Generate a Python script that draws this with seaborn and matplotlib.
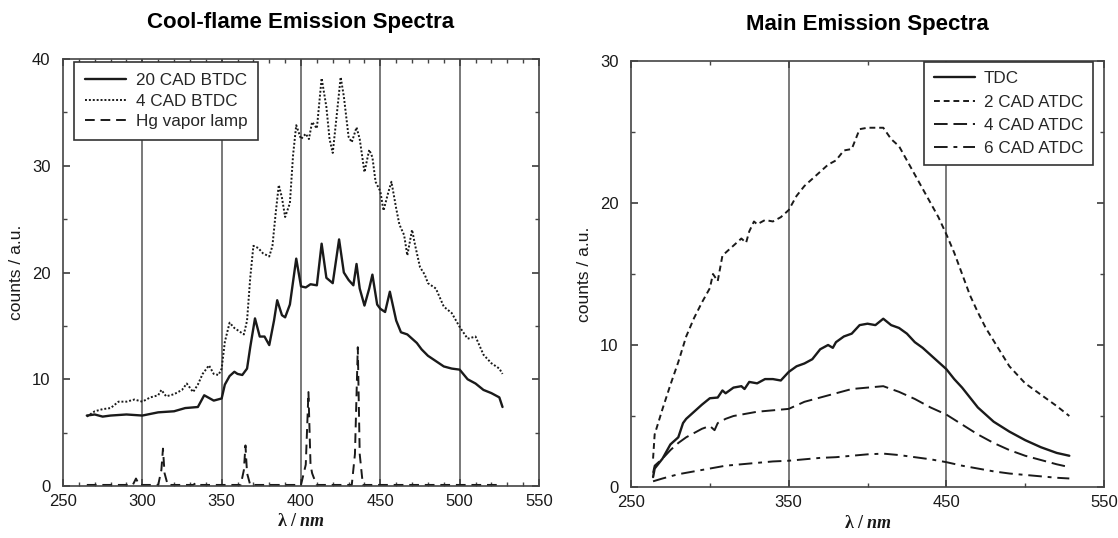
import numpy as np
import pandas as pd
import matplotlib
matplotlib.use("Agg")
import matplotlib.pyplot as plt
import seaborn as sns

# ---------------- data: left panel (cool-flame) ----------------
cad20_x = [265, 270, 275, 280, 290, 300, 310, 320, 327, 335, 339, 345, 350, 352, 355, 358, 360, 363,
           366, 368, 371, 374, 377, 380, 383, 385, 388, 390, 393, 397, 400, 403, 406, 410, 413, 416,
           420, 424, 427, 430, 433, 435, 437, 440, 443, 445, 448, 450, 453, 456, 460, 463, 467, 470,
           473, 476, 480, 485, 490, 495, 500, 505, 510, 515, 520, 525, 527]
cad20_y = [6.6, 6.7, 6.5, 6.6, 6.7, 6.6, 6.9, 7.0, 7.3, 7.4, 8.5, 8.0, 8.2, 9.5, 10.3, 10.7, 10.5, 10.4,
           11.0, 13.0, 15.7, 14.0, 14.0, 13.2, 15.5, 17.4, 16.0, 15.8, 17.0, 21.3, 18.7, 18.6, 18.9, 18.8, 22.7, 19.5,
           19.0, 23.1, 20.0, 19.3, 18.8, 20.8, 18.5, 16.9, 18.5, 19.8, 17.0, 16.6, 16.3, 18.2, 15.5, 14.4, 14.2, 13.8,
           13.4, 12.8, 12.2, 11.7, 11.2, 11.0, 10.9, 10.0, 9.6, 9.0, 8.7, 8.3, 7.4]

cad4_x = [265, 270, 275, 280, 285, 290, 295, 300, 305, 310, 312, 315, 320, 325, 328, 332, 335, 338, 342,
          345, 348, 350, 352, 355, 358, 361, 364, 366, 368, 370, 373, 376, 380, 382, 384, 386, 388, 390,
          393, 395, 397, 400, 403, 405, 407, 410, 413, 416, 418, 420, 422, 425, 427, 430, 432, 435, 437,
          440, 443, 445, 447, 450, 452, 455, 457, 460, 462, 465, 467, 470, 472, 475, 478, 480, 485, 490,
          495, 500, 505, 510, 515, 520, 525, 527]
cad4_y = [6.5, 7.0, 7.2, 7.3, 7.9, 7.9, 8.1, 7.9, 8.3, 8.5, 9.0, 8.4, 8.6, 9.0, 9.6, 8.8, 9.5, 10.5, 11.3,
          10.5, 10.4, 11.0, 13.5, 15.3, 14.8, 14.5, 14.2, 15.5, 19.5, 22.5, 22.3, 21.8, 21.5, 22.5, 25.5, 28.2, 27.0, 25.2,
          26.5, 31.0, 33.8, 32.5, 33.0, 32.5, 34.1, 33.5, 38.2, 35.5, 32.5, 31.2, 34.0, 38.3, 36.5, 32.7, 32.2, 33.6, 32.5,
          29.4, 31.5, 30.8, 28.5, 27.6, 25.8, 27.5, 28.5, 26.0, 24.5, 23.5, 21.6, 24.0, 22.5, 20.5, 19.8, 19.0, 18.5, 16.8,
          16.2, 14.9, 13.8, 14.0, 12.3, 11.5, 11.0, 10.5]

hg_x = [265, 285, 294, 296, 298, 310, 312, 313, 314, 316, 332, 334, 336, 362, 364, 365, 366, 368,
        400, 403, 404.7, 406, 407, 408, 410, 432, 434, 435.8, 437, 439, 460, 527]
hg_y = [0.1, 0.1, 0.1, 0.7, 0.1, 0.1, 1.5, 3.5, 1.2, 0.1, 0.1, 0.3, 0.1, 0.1, 1.5, 3.8, 1.2, 0.1,
        0.1, 2.0, 8.8, 2.0, 1.2, 0.8, 0.1, 0.1, 3.0, 13.0, 3.0, 0.1, 0.1, 0.1]

# ---------------- data: right panel (main emission) ----------------
tdc_x = [264, 265, 270, 275, 280, 283, 285, 290, 295, 300, 305, 308, 310, 315, 320, 322, 325, 330, 335,
         340, 345, 350, 355, 360, 365, 370, 375, 378, 380, 385, 390, 395, 400, 405, 410, 415, 420, 425,
         430, 435, 440, 445, 450, 455, 460, 465, 470, 475, 480, 490, 500, 510, 520, 528]
tdc_y = [0.7, 1.3, 2.0, 3.0, 3.5, 4.5, 4.8, 5.3, 5.8, 6.25, 6.3, 6.8, 6.6, 7.0, 7.1, 6.9, 7.4, 7.3, 7.6,
         7.6, 7.5, 8.1, 8.5, 8.7, 9.0, 9.7, 10.0, 9.8, 10.2, 10.6, 10.8, 11.4, 11.5, 11.4, 11.85, 11.4, 11.2, 10.8,
         10.2, 9.8, 9.3, 8.8, 8.3, 7.6, 7.0, 6.3, 5.6, 5.1, 4.6, 3.9, 3.3, 2.8, 2.4, 2.2]

atdc2_x = [264, 265, 270, 275, 280, 285, 290, 295, 300, 302, 305, 308, 310, 315, 320, 323, 325, 328, 330,
           335, 340, 345, 350, 355, 360, 365, 370, 375, 380, 385, 390, 395, 400, 405, 410, 415, 420, 425,
           430, 435, 440, 445, 450, 455, 460, 465, 470, 475, 480, 490, 500, 510, 520, 528]
atdc2_y = [2.0, 3.7, 5.5, 7.2, 8.8, 10.6, 11.9, 13.0, 14.0, 15.0, 14.5, 16.3, 16.5, 17.0, 17.5, 17.2, 18.0, 18.7, 18.5,
           18.8, 18.7, 19.0, 19.5, 20.5, 21.2, 21.7, 22.2, 22.7, 23.0, 23.7, 23.8, 25.2, 25.3, 25.3, 25.3, 24.5, 24.0, 23.0,
           22.0, 21.0, 20.0, 19.0, 17.8, 16.5, 15.0, 13.5, 12.3, 11.2, 10.3, 8.5, 7.3, 6.5, 5.7, 5.0]

atdc4_x = [264, 265, 270, 275, 280, 285, 290, 295, 300, 303, 305, 310, 315, 320, 325, 330, 340, 350, 360,
           370, 380, 390, 400, 410, 420, 430, 440, 450, 460, 470, 480, 490, 500, 510, 520, 528]
atdc4_y = [1.0, 1.5, 2.0, 2.6, 3.1, 3.5, 3.8, 4.1, 4.3, 4.0, 4.5, 4.8, 5.0, 5.1, 5.2, 5.3, 5.4, 5.5, 6.0,
           6.3, 6.6, 6.9, 7.0, 7.1, 6.7, 6.2, 5.6, 5.1, 4.4, 3.7, 3.1, 2.6, 2.2, 1.9, 1.6, 1.4]

atdc6_x = [264, 270, 280, 290, 300, 310, 320, 330, 340, 350, 360, 370, 380, 390, 400, 410, 420, 430,
           440, 450, 460, 470, 480, 490, 500, 510, 520, 528]
atdc6_y = [0.4, 0.6, 0.9, 1.1, 1.3, 1.5, 1.6, 1.7, 1.8, 1.85, 1.95, 2.05, 2.1, 2.2, 2.3, 2.35, 2.25, 2.1,
           1.95, 1.75, 1.5, 1.3, 1.1, 0.95, 0.85, 0.75, 0.65, 0.6]

left_labels = ["20 CAD BTDC", "4 CAD BTDC", "Hg vapor lamp"]
right_labels = ["TDC", "2 CAD ATDC", "4 CAD ATDC", "6 CAD ATDC"]
left_title = "Cool-flame Emission Spectra"
right_title = "Main Emission Spectra"
ylabel = "counts / a.u."
xlabel = r"$\mathrm{\lambda\ /\ }\mathbf{nm}$"

# ---------------- styling ----------------
sns.set_theme(style="ticks")
plt.rcParams["font.family"] = ["Liberation Sans", "DejaVu Sans"]
plt.rcParams["mathtext.fontset"] = "custom"
plt.rcParams["mathtext.rm"] = "Liberation Serif:bold"
plt.rcParams["mathtext.it"] = "Liberation Serif:italic"
plt.rcParams["mathtext.bf"] = "Liberation Serif:bold:italic"
INK = "#1a1a1a"

W, H = 1118, 538
fig = plt.figure(figsize=(W / 100, H / 100), dpi=100)
axL = fig.add_axes([63 / W, 1 - 486 / H, 476 / W, 427 / H])
axR = fig.add_axes([631 / W, 1 - 487 / H, 473 / W, 426 / H])

def draw(ax, x, y, label, ls, lw=1.3):
    df = pd.DataFrame({"x": x, "y": y})
    sns.lineplot(data=df, x="x", y="y", ax=ax, color=INK, lw=lw, label=label,
                 estimator=None, sort=False)
    ax.lines[-1].set_linestyle(ls)

# left
for v in [300, 350, 400, 450, 500]:
    axL.axvline(v, color="#555555", lw=1.1, zorder=0)
draw(axL, cad20_x, cad20_y, left_labels[0], "-", 1.7)
draw(axL, cad4_x, cad4_y, left_labels[1], (0, (1, 1)), 1.4)
draw(axL, hg_x, hg_y, left_labels[2], (0, (5, 3)), 1.4)
axL.set_xlim(250, 550)
axL.set_ylim(0, 40)
axL.set_xticks(np.arange(250, 551, 50))
axL.set_xticks(np.arange(250, 551, 10), minor=True)
axL.set_yticks(np.arange(0, 41, 10))
axL.set_yticks(np.arange(0, 41, 5), minor=True)

# right
for v in [350, 450]:
    axR.axvline(v, color="#555555", lw=1.1, zorder=0)
draw(axR, tdc_x, tdc_y, right_labels[0], "-", 1.7)
draw(axR, atdc2_x, atdc2_y, right_labels[1], (0, (3, 2)), 1.4)
draw(axR, atdc4_x, atdc4_y, right_labels[2], (0, (7, 3)), 1.4)
draw(axR, atdc6_x, atdc6_y, right_labels[3], (0, (7, 3, 2, 3)), 1.4)
axR.set_xlim(250, 550)
axR.set_ylim(0, 30)
axR.set_xticks(np.arange(250, 551, 100))
axR.set_xticks(np.arange(250, 551, 50), minor=True)
axR.set_yticks(np.arange(0, 31, 10))
axR.set_yticks(np.arange(0, 31, 5), minor=True)

for ax, title in [(axL, left_title), (axR, right_title)]:
    for s in ax.spines.values():
        s.set_color("#444444")
        s.set_linewidth(1.2)
    ax.tick_params(which="both", direction="in", top=True, right=True, color="#444444")
    ax.tick_params(which="major", length=5, labelsize=12, labelcolor=INK)
    ax.tick_params(axis="x", which="major", pad=6)
    ax.tick_params(axis="y", which="major", pad=9)
    ax.tick_params(which="minor", length=3)
    ax.set_title(title, fontsize=16, fontweight="bold", color="black", pad=22)
    ax.set_ylabel(ylabel, fontsize=12.5, color=INK, labelpad=6)
    ax.set_xlabel(xlabel, fontsize=13, color=INK, labelpad=3)
    ax.grid(False)

leg_kw = dict(fontsize=12.3, frameon=True, fancybox=False, edgecolor="#333333",
              handlelength=2.4, handletextpad=0.55, borderaxespad=0.0)
legL = axL.legend(loc="upper left", bbox_to_anchor=(74 / W, 1 - 62 / H),
                  bbox_transform=fig.transFigure, borderpad=0.65, labelspacing=0.33, **leg_kw)
legR = axR.legend(loc="upper right", bbox_to_anchor=(1093 / W, 1 - 62 / H),
                  bbox_transform=fig.transFigure, borderpad=0.55, labelspacing=0.48, **leg_kw)
for leg in (legL, legR):
    leg.get_frame().set_linewidth(1.2)
    leg.get_frame().set_alpha(1)

fig.savefig("out.png", dpi=100, facecolor="white")
